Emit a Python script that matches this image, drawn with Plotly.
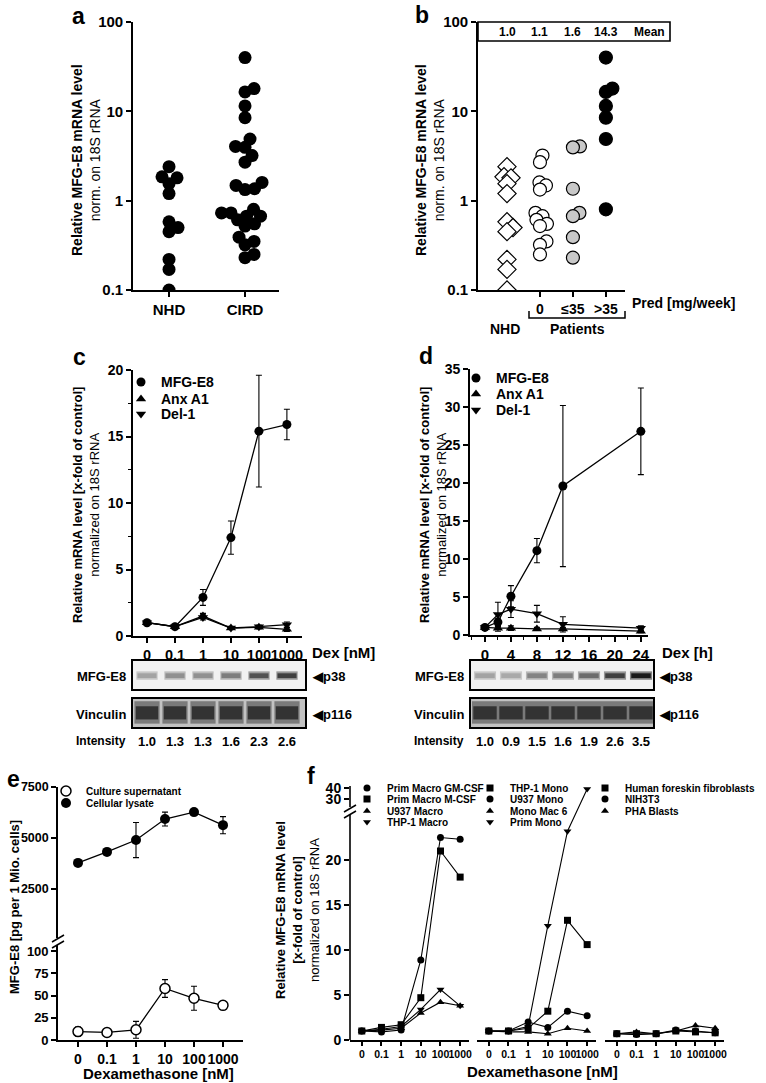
import numpy as np
import plotly.graph_objects as go

W, H = 766, 1083
FONT = "Liberation Sans, Arial, Helvetica, sans-serif"

# ---------------- data ----------------
# panels a / b : relative MFG-E8 mRNA (log scale)
nhd = [2.4, 1.85, 1.8, 1.55, 1.2, 0.58, 0.5, 0.45, 0.22, 0.17, 0.1]
pred_0 = [3.2, 2.7, 1.6, 1.48, 1.33, 0.73, 0.67, 0.61, 0.55, 0.52, 0.35, 0.32, 0.25]
pred_le35 = [4.05, 3.95, 1.36, 0.73, 0.67, 0.39, 0.23]
pred_gt35 = [40, 18, 16.5, 11.5, 8.5, 4.9, 0.8]
cird = pred_0 + pred_le35 + pred_gt35
a_groups = ["NHD", "CIRD"]
pred_labels = ["0", "≤35", ">35"]
log_ticks = [0.1, 1, 10, 100]
log_ticktext = ["0.1", "1", "10", "100"]

# panel c : Dex dose (nM)
dex_nM = ["0", "0.1", "1", "10", "100", "1000"]
c_mfge8 = [1.0, 0.7, 2.9, 7.4, 15.4, 15.9]
c_mfge8_err = [0.1, 0.1, 0.6, 1.25, 4.2, 1.15]
c_anxa1 = [1.0, 0.7, 1.5, 0.6, 0.65, 0.5]
c_anxa1_err = [0.1, 0.1, 0.2, 0.1, 0.1, 0.15]
c_del1 = [1.0, 0.7, 1.4, 0.6, 0.7, 0.85]
c_del1_err = [0.1, 0.1, 0.2, 0.1, 0.1, 0.2]

# panel d : Dex time (h)
dex_h = [0, 2, 4, 8, 12, 24]
d_mfge8 = [1.0, 1.7, 5.1, 11.1, 19.6, 26.8]
d_mfge8_err = [0.2, 0.5, 1.4, 1.6, 10.6, 5.7]
d_anxa1 = [1.0, 0.9, 0.9, 0.8, 0.8, 0.5]
d_anxa1_err = [0.1, 0.4, 0.3, 0.2, 0.2, 0.2]
d_del1 = [1.0, 2.7, 3.4, 2.8, 1.4, 0.9]
d_del1_err = [0.2, 1.6, 1.1, 1.1, 1.0, 0.3]

# western blots
blot_c_intensity = [1.0, 1.3, 1.3, 1.6, 2.3, 2.6]
blot_d_hours = [0, 4, 8, 12, 16, 20, 24]
blot_d_intensity = [1.0, 0.9, 1.5, 1.6, 1.9, 2.6, 3.5]

# panel e : protein (pg per 1 Mio cells)
e_supernatant = [9.5, 8.5, 11.5, 58, 47, 39]
e_supernatant_err = [5, 2, 9.5, 10, 13.5, 3]
e_lysate = [3780, 4320, 4900, 5930, 6270, 5630]
e_lysate_err = [80, 80, 860, 340, 60, 420]

# panel f : cell types
f_pm_gm = [1.0, 0.9, 1.1, 8.9, 22.5, 22.3]
f_pm_m = [1.0, 1.4, 1.7, 4.7, 21.0, 18.1]
f_u937_macro = [1.0, 1.1, 1.3, 3.0, 4.2, 3.8]
f_thp1_macro = [1.0, 1.2, 1.5, 3.4, 5.6, 3.8]
f_thp1_mono = [1.0, 1.0, 1.3, 3.2, 13.3, 10.6]
f_u937_mono = [1.0, 1.0, 2.0, 1.4, 3.2, 2.7]
f_monomac6 = [1.0, 0.9, 0.9, 0.7, 1.3, 1.0]
f_prim_mono = [1.0, 1.0, 1.5, 12.7, 23.2, 39.0]
f_hff = [0.7, 0.7, 0.7, 1.0, 0.9, 0.8]
f_nih3t3 = [0.7, 0.6, 0.7, 1.1, 1.0, 0.8]
f_pha = [0.7, 0.9, 0.7, 1.0, 1.6, 1.3]


# ---------------- helpers ----------------
def xdom(a, b):
    return [a / W, b / W]


def ydom(top, bottom):
    return [1 - bottom / H, 1 - top / H]


def PX(p):
    return p / W


def PY(p):
    return 1 - p / H


def bfont(size):
    return dict(family=FONT, size=size, color="black", weight="bold")


def rfont(size):
    return dict(family=FONT, size=size, color="black")


def axis(**kw):
    d = dict(showline=True, linecolor="black", linewidth=1.6, ticks="outside",
             ticklen=5, tickwidth=1.5, tickcolor="black", showgrid=False,
             zeroline=False, tickfont=bfont(14), fixedrange=True, tickangle=0)
    d.update(kw)
    return d


def boxaxis(**kw):
    d = dict(showline=True, mirror=True, linecolor="black", linewidth=2.2,
             ticks="", showticklabels=False, showgrid=False, zeroline=False,
             fixedrange=True)
    d.update(kw)
    return d


def swarm(values, px_per_decade, px_per_unit, min_dist):
    ys = np.log10(np.asarray(values, dtype=float)) * px_per_decade
    order = np.argsort(ys)
    placed = []
    offs = np.zeros(len(ys))
    for i in order:
        y = ys[i]
        best = 0.0
        for step in range(0, 200):
            found = False
            for sgn in ([1] if step == 0 else [1, -1]):
                xo = sgn * step * 0.5
                if all((xo - px) ** 2 + (y - py) ** 2 >= min_dist ** 2 for px, py in placed):
                    best = xo
                    found = True
                    break
            if found:
                break
        placed.append((best, y))
        offs[i] = best / px_per_unit
    return offs


fig = go.Figure()
legends = {}


def new_legend(text_x, row_y, size):
    key = "legend" if not legends else f"legend{len(legends) + 1}"
    item_h = max(size * 1.3, 16) + 3
    top = row_y - (item_h / 2 + 5)
    legends[key] = dict(x=(text_x - 40) / W, y=1 - top / H, xanchor="left",
                        yanchor="top", bgcolor="rgba(0,0,0,0)", borderwidth=0,
                        font=bfont(size), itemwidth=30, itemclick=False,
                        itemdoubleclick=False)
    return key


def add_series(x, y, name, xa, ya, marker, lw, err, text_x, row, size):
    # connecting line (+ error bars)
    fig.add_trace(go.Scatter(
        x=x, y=y, mode="lines", line=dict(color="black", width=lw),
        error_y=(dict(type="data", array=err, color="black", thickness=1.1, width=3)
                 if err is not None else None),
        xaxis=xa, yaxis=ya, showlegend=False, hoverinfo="skip"))
    # symbols (carry the legend entry)
    fig.add_trace(go.Scatter(
        x=x, y=y, name=name, mode="markers", marker=marker,
        xaxis=xa, yaxis=ya, legend=new_legend(text_x, row, size)))


# ---------------- panel a ----------------
for gi, vals in enumerate([nhd, cird]):
    off = swarm(vals, 89, 76, 9.5)
    fig.add_trace(go.Scatter(x=gi + off, y=vals, mode="markers",
                             marker=dict(size=13, color="black"),
                             xaxis="x", yaxis="y", showlegend=False))

# ---------------- panel b ----------------
b_sets = [(nhd, "diamond", "white", 14), (pred_0, "circle", "white", 13),
          (pred_le35, "circle", "#c8c8c8", 13), (pred_gt35, "circle", "black", 13)]
for gi, (vals, sym, col, sz) in enumerate(b_sets):
    off = swarm(vals, 89, 33, 7.0)
    fig.add_trace(go.Scatter(x=gi + off, y=vals, mode="markers",
                             marker=dict(size=sz, symbol=sym, color=col,
                                         line=dict(color="black", width=1.2)),
                             xaxis="x2", yaxis="y2", showlegend=False))

# ---------------- panel c ----------------
c_x = np.arange(len(dex_nM))
c_series = [("MFG-E8", c_mfge8, c_mfge8_err, "circle"),
            ("Anx A1", c_anxa1, c_anxa1_err, "triangle-up"),
            ("Del-1", c_del1, c_del1_err, "triangle-down")]
for (name, vals, err, sym), row in zip(c_series, [382, 399, 414]):
    add_series(c_x, vals, name, "x3", "y3", dict(symbol=sym, size=9, color="black"),
               1.3, err, 161, row, 14)

# ---------------- panel d ----------------
d_series = [("MFG-E8", d_mfge8, d_mfge8_err, "circle"),
            ("Anx A1", d_anxa1, d_anxa1_err, "triangle-up"),
            ("Del-1", d_del1, d_del1_err, "triangle-down")]
for (name, vals, err, sym), row in zip(d_series, [378, 394, 410]):
    add_series(dex_h, vals, name, "x4", "y4", dict(symbol=sym, size=9, color="black"),
               1.3, err, 496, row, 14)


# ---------------- blots ----------------
def band_gray(i):
    return int(np.clip(225 - 62 * i, 25, 230))


def add_bars(xa, ya, lanes, colors, base, height, width):
    n = len(lanes)
    fig.add_trace(go.Bar(x=lanes, y=[height] * n, base=[base] * n, width=width,
                         marker=dict(color=colors, line=dict(width=0)),
                         xaxis=xa, yaxis=ya, showlegend=False, hoverinfo="skip"))


def halo(g):
    h = (g + 235) // 2
    return f"rgb({h},{h},{h})"


c_lanes = list(np.arange(len(blot_c_intensity)))
gc = [band_gray(i) for i in blot_c_intensity]
add_bars("x10", "y10", c_lanes, [halo(g) for g in gc], 0.33, 0.3, 0.76)
add_bars("x10", "y10", c_lanes, [f"rgb({g},{g},{g})" for g in gc], 0.39, 0.17, 0.68)
add_bars("x11", "y11", c_lanes, ["#7a7a7a"] * len(c_lanes), 0.12, 0.8, 0.9)
add_bars("x11", "y11", c_lanes, ["#333333"] * len(c_lanes), 0.27, 0.47, 0.8)

gd = [band_gray(i) for i in blot_d_intensity]
add_bars("x12", "y12", blot_d_hours, [halo(g) for g in gd], 0.33, 0.3, 3.4)
add_bars("x12", "y12", blot_d_hours, [f"rgb({g},{g},{g})" for g in gd], 0.39, 0.17, 3.0)
add_bars("x13", "y13", blot_d_hours, ["#7a7a7a"] * len(blot_d_hours), 0.12, 0.8, 4.0)
add_bars("x13", "y13", blot_d_hours, ["#333333"] * len(blot_d_hours), 0.27, 0.47, 3.6)

# ---------------- panel e ----------------
e_x = np.arange(len(dex_nM))
add_series(e_x, e_supernatant, "Culture supernatant", "x5", "y5",
           dict(symbol="circle", size=10, color="white", line=dict(color="black", width=1.5)),
           1.3, e_supernatant_err, 86, 791, 10)
add_series(e_x, e_lysate, "Cellular lysate", "x5", "y6",
           dict(symbol="circle", size=10, color="black"),
           1.3, e_lysate_err, 86, 803, 10)

# ---------------- panel f (broken y axis) ----------------
F_PX_PER_UNIT = 9.0
F_LOW_TOP = 25.0
F_UP_REF, F_UP_POS, F_UP_SCALE = 30.0, 26.78, 1.1 / 9.0


def fy(v):
    v = np.asarray(v, dtype=float)
    return np.where(v <= F_LOW_TOP, v, F_UP_POS + (v - F_UP_REF) * F_UP_SCALE)


f_x = np.arange(len(dex_nM))
f_groups = [
    ("x7", 387, [("Prim Macro GM-CSF", f_pm_gm, "circle"),
                 ("Prim Macro M-CSF", f_pm_m, "square"),
                 ("U937 Macro", f_u937_macro, "triangle-up"),
                 ("THP-1 Macro", f_thp1_macro, "triangle-down")]),
    ("x8", 510, [("THP-1 Mono", f_thp1_mono, "square"),
                 ("U937 Mono", f_u937_mono, "circle"),
                 ("Mono Mac 6", f_monomac6, "triangle-up"),
                 ("Prim Mono", f_prim_mono, "triangle-down")]),
    ("x9", 625, [("Human foreskin fibroblasts", f_hff, "square"),
                 ("NIH3T3", f_nih3t3, "circle"),
                 ("PHA Blasts", f_pha, "triangle-up")]),
]
f_rows = [788, 799, 811, 822]
for xa, text_x, series in f_groups:
    for (name, vals, sym), row in zip(series, f_rows):
        add_series(f_x, fy(vals), name, xa, "y7", dict(symbol=sym, size=7, color="black"),
                   1.1, None, text_x, row, 10)

# ---------------- axes ----------------
lay = {}
lay["xaxis"] = axis(domain=xdom(133, 279), range=[-0.474, 1.447], tickvals=[0, 1],
                    ticktext=a_groups, anchor="y", tickfont=bfont(15))
lay["yaxis"] = axis(type="log", domain=ydom(22, 290), range=[-1, 2], tickvals=log_ticks,
                    ticktext=log_ticktext, anchor="x", tickfont=bfont(15))
lay["xaxis2"] = axis(domain=xdom(478, 625), range=[-0.88, 3.58], tickvals=[1, 2, 3],
                     ticktext=pred_labels, anchor="y2", tickfont=bfont(14))
lay["yaxis2"] = axis(type="log", domain=ydom(22, 290), range=[-1, 2], tickvals=log_ticks,
                     ticktext=log_ticktext, anchor="x2", tickfont=bfont(15))
lay["xaxis3"] = axis(domain=xdom(133, 302), range=[-0.5, 5.54], tickvals=list(c_x),
                     ticktext=dex_nM, anchor="y3", tickfont=bfont(14.5))
lay["yaxis3"] = axis(domain=ydom(370, 636), range=[0, 20], dtick=5, anchor="x3",
                     minor=dict(dtick=2.5, ticklen=3, tickcolor="black", tickwidth=1.2, ticks="outside"))
lay["xaxis4"] = axis(domain=xdom(470, 648), range=[-2.3, 25.1], tickvals=list(range(0, 25, 4)),
                     anchor="y4", tickfont=bfont(15),
                     minor=dict(dtick=2, ticklen=3, tickcolor="black", tickwidth=1.2, ticks="outside"))
lay["yaxis4"] = axis(domain=ydom(369, 635), range=[0, 35], dtick=5, anchor="x4")
# blots
lay["xaxis10"] = boxaxis(domain=xdom(133, 305), range=[-0.5, 5.643], anchor="y10")
lay["yaxis10"] = boxaxis(domain=ydom(661, 689), range=[0, 1], anchor="x10")
lay["xaxis11"] = boxaxis(domain=xdom(133, 305), range=[-0.5, 5.643], anchor="y11")
lay["yaxis11"] = boxaxis(domain=ydom(699, 727), range=[0, 1], anchor="x11")
lay["xaxis12"] = boxaxis(domain=xdom(471, 653), range=[-2.154, 25.846], anchor="y12")
lay["yaxis12"] = boxaxis(domain=ydom(661, 689), range=[0, 1], anchor="x12")
lay["xaxis13"] = boxaxis(domain=xdom(471, 653), range=[-2.154, 25.846], anchor="y13")
lay["yaxis13"] = boxaxis(domain=ydom(699, 727), range=[0, 1], anchor="x13")
# e
lay["xaxis5"] = axis(domain=xdom(58, 243), range=[-0.69, 5.69], tickvals=list(e_x),
                     ticktext=dex_nM, anchor="y5", tickfont=bfont(14))
lay["yaxis5"] = axis(domain=ydom(945, 1040), range=[0, 107], tickvals=[0, 25, 50, 75, 100],
                     anchor="x5", tickfont=bfont(13))
lay["yaxis6"] = axis(domain=ydom(787, 938), range=[100, 7500], tickvals=[2500, 5000, 7500],
                     anchor="x5", tickfont=bfont(12.5))
# f
f_top = (1040 - 786) / F_PX_PER_UNIT
for k, (a, b) in zip(["xaxis7", "xaxis8", "xaxis9"], [(350, 469), (477, 596), (605, 724)]):
    lay[k] = axis(domain=xdom(a, b), range=[-0.6, 5.45], tickvals=list(f_x), ticktext=dex_nM,
                  anchor="y7", tickfont=bfont(10.5), ticklen=4)
f_tick_vals = [0, 5, 10, 15, 20, 30, 40]
lay["yaxis7"] = axis(domain=ydom(786, 1040), range=[0, f_top], tickvals=list(fy(f_tick_vals)),
                     ticktext=[str(v) for v in f_tick_vals], anchor="x7", showline=False)

# ---------------- annotations ----------------
ann = []


def A(x, y, text, font, xanchor="center", yanchor="middle", angle=0, xref="paper"):
    ann.append(dict(x=x, y=y, xref=xref, yref="paper", text=text, showarrow=False,
                    font=font, xanchor=xanchor, yanchor=yanchor, textangle=angle))


for letter, x, y in [("a", 78, 16), ("b", 422, 15), ("c", 79, 357), ("d", 426, 356),
                     ("e", 13, 779), ("f", 311, 776)]:
    A(PX(x), PY(y), letter, bfont(23))

A(PX(86), PY(160), "<b>Relative MFG-E8 mRNA level</b><br>norm. on 18S rRNA", rfont(14), angle=-90)
A(PX(430), PY(160), "<b>Relative MFG-E8 mRNA level</b><br>norm. on 18S rRNA", rfont(14), angle=-90)
A(PX(86), PY(505), "<b>Relative mRNA level [x-fold of control]</b><br>normalized on 18S rRNA", rfont(13), angle=-90)
A(PX(433), PY(505), "<b>Relative mRNA level [x-fold of control]</b><br>normalized on 18S rRNA", rfont(13), angle=-90)
A(PX(14), PY(907), "MFG-E8 [pg per 1 Mio. cells]", bfont(13), angle=-90)
A(PX(297), PY(910), "<b>Relative MFG-E8 mRNA level</b><br><b>[x-fold of control]</b><br>normalized on 18S rRNA",
  rfont(13), angle=-90)

# b means box
for gi, vals in enumerate([nhd, pred_0, pred_le35, pred_gt35]):
    A(gi, PY(31.5), f"{np.mean(vals):.1f}", bfont(12), xref="x2")
A(PX(649), PY(31.5), "Mean", bfont(12))
A(PX(630), PY(303), "Pred [mg/week]", bfont(14), xanchor="left")
A(PX(505), PY(329), "NHD", bfont(14))
A(PX(577), PY(329), "Patients", bfont(14))

A(PX(310), PY(652), "Dex [nM]", bfont(15), xanchor="left")
A(PX(660), PY(652), "Dex [h]", bfont(15), xanchor="left")

# blot labels
for xr, xl in [(128, 310), (466, 657)]:
    A(PX(xr), PY(676), "MFG-E8", bfont(13), xanchor="right")
    A(PX(xr), PY(714), "Vinculin", bfont(13), xanchor="right")
    A(PX(xl), PY(676), "◀p38", bfont(13), xanchor="left")
    A(PX(xl), PY(714), "◀p116", bfont(13), xanchor="left")
    A(PX(xr), PY(741), "Intensity", bfont(12), xanchor="right")
for lane, val in zip(c_lanes, blot_c_intensity):
    A(lane, PY(741), f"{val:.1f}", bfont(13), xref="x10")
for lane, val in zip(blot_d_hours, blot_d_intensity):
    A(lane, PY(741), f"{val:.1f}", bfont(13), xref="x12")

A(PX(158), PY(1073), "Dexamethasone [nM]", bfont(15))
A(PX(542), PY(1071), "Dexamethasone [nM]", bfont(15))

# ---------------- shapes ----------------
shapes = []
shapes.append(dict(type="rect", xref="paper", yref="paper", x0=PX(478), x1=PX(670),
                   y0=PY(41), y1=PY(22), line=dict(color="black", width=1.6), fillcolor="white",
                   layer="below"))
shapes.append(dict(type="path", xref="paper", yref="paper",
                   path=f"M {PX(529)} {PY(311)} L {PX(529)} {PY(318)} L {PX(625)} {PY(318)} L {PX(625)} {PY(311)}",
                   line=dict(color="black", width=1.5)))
for ax, col in [("10", "#f1f1f1"), ("11", "#c2c2c2"), ("12", "#f1f1f1"), ("13", "#c2c2c2")]:
    shapes.append(dict(type="rect", xref=f"x{ax} domain", yref=f"y{ax} domain", x0=0, x1=1,
                       y0=0, y1=1, fillcolor=col, line=dict(width=0), layer="below"))
for y0, y1 in [(1040, 815), (807, 786)]:
    shapes.append(dict(type="line", xref="paper", yref="paper", x0=PX(350), x1=PX(350),
                       y0=PY(y0), y1=PY(y1), line=dict(color="black", width=1.6)))
for (x0, y0, x1, y1) in [(344, 812, 356, 805), (344, 818, 356, 811),
                         (52, 942, 64, 935), (52, 948, 64, 941)]:
    shapes.append(dict(type="line", xref="paper", yref="paper", x0=PX(x0), x1=PX(x1),
                       y0=PY(y0), y1=PY(y1), line=dict(color="black", width=1.5)))

fig.update_layout(
    width=W, height=H, margin=dict(l=0, r=0, t=0, b=0, autoexpand=False),
    paper_bgcolor="white", plot_bgcolor="white", barmode="overlay",
    font=dict(family=FONT, color="black"), annotations=ann, shapes=shapes,
    **lay, **legends)

fig.write_html("out.html", config={"displayModeBar": False},
               post_script="document.body.style.margin='0px';")
